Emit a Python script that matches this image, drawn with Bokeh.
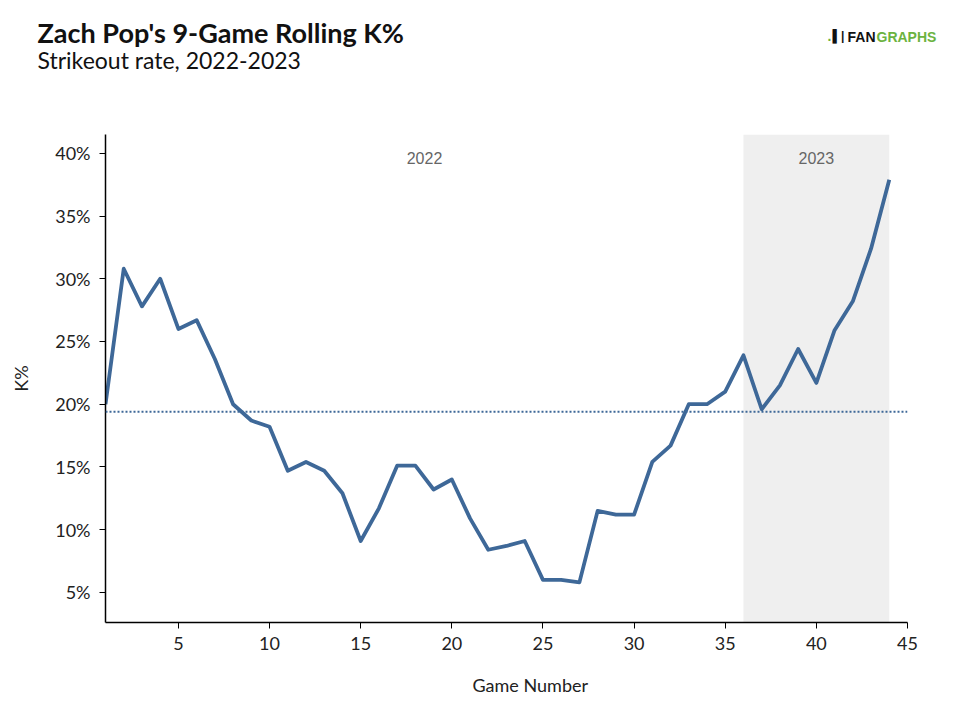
from bokeh.plotting import figure
from bokeh.models import (Range1d, BoxAnnotation, Span, Label, FixedTicker,
                          PrintfTickFormatter, ColumnDataSource, Title)
from bokeh.embed import file_html
from bokeh.resources import INLINE

# ---- data ----
games = list(range(1, 45))
k_pct = [20.0, 30.8, 27.8, 30.0, 26.0, 26.7, 23.6, 20.0, 18.7, 18.2,
         14.7, 15.4, 14.7, 12.9, 9.1, 11.7, 15.1, 15.1, 13.2, 14.0,
         10.9, 8.4, 8.7, 9.1, 6.0, 6.0, 5.8, 11.5, 11.2, 11.2,
         15.4, 16.7, 20.0, 20.0, 21.0, 23.9, 19.6, 21.5, 24.4, 21.7,
         25.9, 28.2, 32.4, 37.9]
avg_k = 19.4
seasons = ["2022", "2023"]
season_start = [1, 36]
season_end = [36, 44]
x_ticks = [5, 10, 15, 20, 25, 30, 35, 40, 45]
y_ticks = [5, 10, 15, 20, 25, 30, 35, 40]
title_text = "Zach Pop's 9-Game Rolling K%"
subtitle_text = "Strikeout rate, 2022-2023"
x_label = "Game Number"
y_label = "K%"

BLUE = "#3e6898"
FONT = "Lato"
LOGO_FONT = "Liberation Sans"
FRAME_L = 105          # left edge of the plot frame on the canvas

p = figure(width=952, height=703, output_backend="svg", toolbar_location=None,
           x_range=Range1d(1, 45), y_range=Range1d(2.6, 41.5),
           min_border_left=FRAME_L, min_border_right=45, min_border_top=134,
           min_border_bottom=81)
p.outline_line_color = None
p.grid.visible = False
p.background_fill_color = "white"
p.border_fill_color = "white"

p.add_layout(BoxAnnotation(left=season_start[1], right=season_end[1],
                           fill_color="#efefef", fill_alpha=1.0,
                           line_color=None, level="underlay"))

for s, a, b in zip(seasons, season_start, season_end):
    p.add_layout(Label(x=(a + b) / 2, y=39.6, text=s, text_align="center",
                       text_baseline="middle", text_color="#666666",
                       text_font="Liberation Sans", text_font_size="16px"))

p.add_layout(Span(location=avg_k, dimension="width", line_color=BLUE,
                  line_width=2, line_dash="2 2"))

src = ColumnDataSource(dict(g=games, k=k_pct))
p.line("g", "k", source=src, line_color=BLUE, line_width=3.8, line_join="round")

for ax in (p.xaxis[0], p.yaxis[0]):
    ax.axis_line_color = "black"
    ax.axis_line_width = 1.5
    ax.major_tick_line_color = "black"
    ax.major_tick_out = 6
    ax.major_tick_in = 0
    ax.minor_tick_line_color = None
    ax.major_label_text_font = FONT
    ax.major_label_text_font_size = "18px"
    ax.major_label_text_color = "#222222"
    ax.axis_label_text_font = FONT
    ax.axis_label_text_font_size = "18px"
    ax.axis_label_text_font_style = "normal"
    ax.axis_label_text_color = "#222222"

p.xaxis.ticker = FixedTicker(ticks=x_ticks)
p.yaxis.ticker = FixedTicker(ticks=y_ticks)
p.yaxis.formatter = PrintfTickFormatter(format="%d%%")
p.yaxis.axis_label = y_label
p.xaxis.major_label_standoff = 8
p.yaxis.major_label_standoff = 9
p.yaxis.axis_label_standoff = 20


# ---- text rows in the side panels (Titles are not clipped to the frame) ----
def h_est(size, factor=1.17):
    return factor * size


def spacer(side, height):
    p.add_layout(Title(text=" ", text_font=FONT, text_font_size="1px",
                       standoff=round(height - 2 - h_est(1))), side)


def text_row(side, text, x, size, color, font=FONT, bold=False, factor=1.17):
    # zero-height row: the text is centred on the row's position
    p.add_layout(Title(text=text, text_font=font, text_font_size=f"{size}px",
                       text_font_style="bold" if bold else "normal",
                       text_color=color, align="left", vertical_align="middle",
                       offset=x - FRAME_L,
                       standoff=-round(2 + h_est(size, factor))), side)


# "above" rows are listed from the frame outwards
spacer("above", 74)                                   # subtitle -> frame
text_row("above", subtitle_text, 37, 23, "#111111")
spacer("above", 23)                                   # logo -> subtitle
text_row("above", "GRAPHS", 876, 14, "#6cb33f", LOGO_FONT, True, 1.12)
text_row("above", "FAN", 847, 14, "#111111", LOGO_FONT, True, 1.12)
text_row("above", "\u258C|", 832, 12, "#111111", LOGO_FONT, True, 1.12)
text_row("above", ".", 827, 14, "#6cb33f", LOGO_FONT, True, 1.12)
spacer("above", 3)                                    # title -> logo
text_row("above", title_text, 37, 27, "#111111", bold=True)
spacer("above", 31)                                   # canvas top -> title

# "below" rows are listed from the frame outwards (axis is first)
spacer("below", 32)
text_row("below", x_label, 472, 18, "#222222")

open("out.html", "w").write(file_html(p, INLINE))
